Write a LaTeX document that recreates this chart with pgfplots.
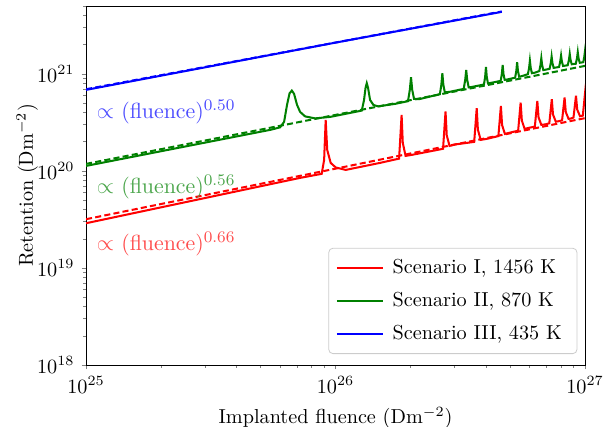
\documentclass[border=0pt]{standalone}
\usepackage{pgfplots}
\pgfplotsset{compat=1.18}
\definecolor{mplred}{rgb}{1,0,0}
\definecolor{mplgreen}{rgb}{0,0.5,0}
\definecolor{mplblue}{rgb}{0,0,1}
\begin{document}
\begin{tikzpicture}
\useasboundingbox (-42.5pt,-30.6pt) rectangle (257.5pt,180.4pt);
\begin{axis}[
  xmode=log, ymode=log,
  scale only axis,
  width=246.6pt, height=177.4pt,
  xmin=1e25, xmax=1e27, ymin=1e18, ymax=5e21,
  xlabel={Implanted fluence (Dm$^{-2}$)},
  ylabel={Retention (Dm$^{-2}$)},
  ylabel style={at={(axis description cs:-0.118,0.5)}, anchor=center},
  tick align=outside,
  xtick pos=bottom, ytick pos=left,
  major tick length=2.2pt, minor tick length=1.3pt,
  axis line style={line width=0.4pt},
  legend cell align=left,
  legend style={at={(0.9846,0.0306)}, anchor=south east, draw=black!20,
    rounded corners=2pt, inner xsep=3.5pt, inner ysep=2.5pt, row sep=1.7pt,
    nodes={inner xsep=4pt, inner ysep=3pt}},
  legend image code/.code={\draw[#1] (0pt,0pt) -- (23pt,0pt);},
  every axis plot/.append style={line width=1pt},
]
\addplot[mplred] coordinates {
(1e25,2.89e19) (7.2e25,8.47e19)
(8.80e25,9.33e19) (9.00e25,1.30e20) (9.13e25,3.36e20) (9.26e25,1.646e20) (9.56e25,1.21e20) (1.001e26,1.087e20) (1.098e26,1.024e20) (1.508e26,1.21e20)
(1.798e26,1.339e20) (1.84e26,3.78e20) (1.860e26,1.944e20) (1.909e26,1.428e20) (2.018e26,1.462e20) (2.623e26,1.666e20)
(2.697e26,1.690e20) (2.76e26,4.09e20) (2.791e26,2.323e20) (2.864e26,1.81e20) (3.027e26,1.876e20)
(3.596e26,1.991e20) (3.68e26,4.43e20) (3.721e26,2.658e20) (3.818e26,2.088e20) (4.036e26,2.138e20)
(4.495e26,2.285e20) (4.6e26,4.68e20) (4.651e26,2.967e20) (4.773e26,2.406e20) (5.044e26,2.494e20)
(5.394e26,2.597e20) (5.52e26,5.06e20) (5.581e26,3.308e20) (5.728e26,2.71e20) (5.943e26,2.776e20)
(6.293e26,2.862e20) (6.44e26,5.27e20) (6.511e26,3.569e20) (6.682e26,2.981e20) (6.933e26,3.017e20)
(7.192e26,3.096e20) (7.36e26,5.49e20) (7.442e26,3.814e20) (7.637e26,3.216e20) (7.851e26,3.254e20)
(8.091e26,3.323e20) (8.28e26,5.70e20) (8.372e26,4.047e20) (8.591e26,3.436e20) (8.751e26,3.46e20)
(8.99e26,3.544e20) (9.2e26,5.97e20) (9.302e26,4.295e20) (9.546e26,3.664e20) (9.723e26,3.69e20)
(9.80e26,3.72e20) (1.0e27,6.32e20) (1.02e27,4.0e20)
};
\addlegendentry{Scenario I, 1456 K}
\addplot[mplgreen] coordinates {
(1e25,1.126e20) (5.46e25,2.646e20)
(5.99e25,2.809e20) (6.22e25,3.20e20) (6.39e25,4.79e20) (6.54e25,6.295e20) (6.68e25,6.727e20) (6.82e25,6.22e20) (7.01e25,4.79e20) (7.21e25,4.058e20) (7.55e25,3.647e20) (8.28e25,3.477e20) (9.51e25,3.603e20)
(1.274e26,4.185e20) (1.301e26,5.395e20) (1.319e26,7.175e20) (1.334e26,8.02e20) (1.350e26,7.175e20) (1.375e26,5.395e20) (1.418e26,4.79e20) (1.480e26,4.623e20) (1.732e26,4.907e20)
(1.952e26,5.23e20) (1.985e26,6.84e20) (2.007e26,9.25e20) (2.029e26,6.84e20) (2.063e26,5.525e20) (2.161e26,5.485e20)
(2.619e26,6.177e20) (2.655e26,7.70e20) (2.68e26,1.017e21) (2.705e26,7.70e20) (2.742e26,6.446e20) (2.859e26,6.522e20)
(3.264e26,7.003e20) (3.309e26,8.67e20) (3.34e26,1.100e21) (3.371e26,8.67e20) (3.418e26,7.256e20) (3.530e26,7.345e20)
(3.935e26,7.776e20) (3.978e26,9.31e20) (4.008e26,1.181e21) (4.038e26,9.31e20) (4.083e26,7.98e20) (4.197e26,8.074e20)
(4.590e26,8.47e20) (4.641e26,1.0e21) (4.676e26,1.238e21) (4.711e26,1.0e21) (4.763e26,8.67e20) (4.897e26,8.776e20)
(5.246e26,9.137e20) (5.304e26,1.074e21) (5.344e26,1.320e21) (5.384e26,1.074e21) (5.443e26,9.357e20) (5.596e26,9.49e20)
(5.902e26,9.93e20) (5.968e26,1.153e21) (6.012e26,1.371e21) (6.057e26,1.153e21) (6.124e26,1.017e21) (6.296e26,1.029e21)
(6.558e26,1.069e21) (6.631e26,1.238e21) (6.68e26,1.451e21) (6.729e26,1.238e21) (6.804e26,1.094e21) (6.963e26,1.105e21)
(7.213e26,1.129e21) (7.294e26,1.298e21) (7.348e26,1.508e21) (7.402e26,1.298e21) (7.485e26,1.153e21) (7.659e26,1.164e21)
(7.869e26,1.178e21) (7.957e26,1.345e21) (8.016e26,1.544e21) (8.075e26,1.345e21) (8.165e26,1.206e21) (8.317e26,1.215e21)
(8.525e26,1.227e21) (8.620e26,1.394e21) (8.684e26,1.608e21) (8.748e26,1.394e21) (8.846e26,1.256e21) (9.011e26,1.265e21)
(9.181e26,1.271e21) (9.283e26,1.444e21) (9.352e26,1.674e21) (9.421e26,1.444e21) (9.526e26,1.301e21) (9.704e26,1.311e21)
(9.84e26,1.320e21) (9.93e26,1.497e21) (9.99e26,1.698e21) (1.01e27,1.35e21)
};
\addlegendentry{Scenario II, 870 K}
\addplot[mplblue] coordinates {
(1e25,6.84e20) (1e26,2.10e21) (4.64e26,4.357e21)
};
\addlegendentry{Scenario III, 435 K}
\addplot[mplred, dashed, dash pattern=on 3pt off 1.6pt, forget plot] coordinates {(1e25,3.18e19) (1e27,3.5e20)};
\addplot[mplgreen, dashed, dash pattern=on 3pt off 1.6pt, forget plot] coordinates {(1e25,1.181e20) (1e27,1.209e21)};
\addplot[mplblue, dashed, dash pattern=on 3pt off 1.6pt, forget plot] coordinates {(1e25,6.95e20) (4.64e26,4.40e21)};
\node[anchor=west, text=blue!70!white, inner sep=0pt, font=\fontsize{10.8}{13}\selectfont] at (axis cs:1.1e25,4.06e20) {$\propto$ (fluence)$^{0.50}$};
\node[anchor=west, text=mplgreen!70!white, inner sep=0pt, font=\fontsize{10.8}{13}\selectfont] at (axis cs:1.1e25,6.84e19) {$\propto$ (fluence)$^{0.56}$};
\node[anchor=west, text=red!70!white, inner sep=0pt, font=\fontsize{10.8}{13}\selectfont] at (axis cs:1.1e25,1.77e19) {$\propto$ (fluence)$^{0.66}$};
\end{axis}
\end{tikzpicture}
\end{document}
